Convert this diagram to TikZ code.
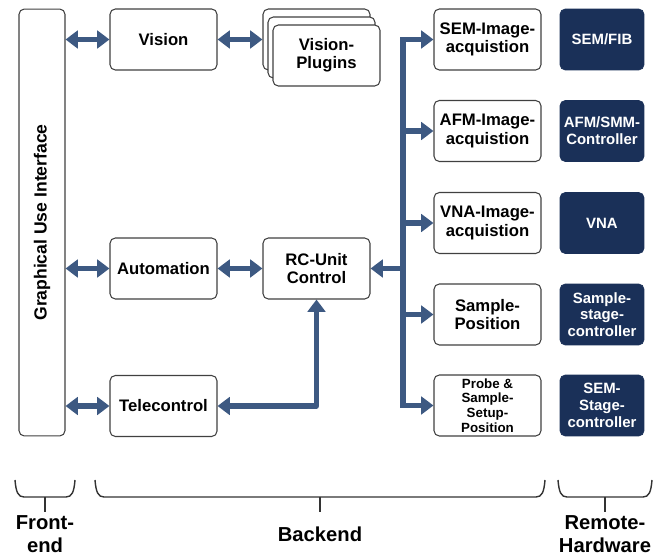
\documentclass[tikz,border=0pt]{standalone}
\usepackage{fontspec}
\setsansfont{Liberation Sans}
\usetikzlibrary{arrows.meta}
\definecolor{linkblue}{RGB}{61,89,130}
\definecolor{hwnavy}{RGB}{26,48,88}
\tikzset{
  swbox/.style={draw=black!75, line width=0.6pt, rounded corners=3pt, fill=white, align=center,
    minimum width=2.14cm, minimum height=1.22cm, inner sep=1pt,
    font=\sffamily\bfseries\fontsize{9.5}{10.5}\selectfont},
  hwbox/.style={draw=hwnavy, fill=hwnavy, text=white, rounded corners=3pt, align=center,
    minimum width=1.68cm, minimum height=1.22cm, inner sep=1pt,
    font=\sffamily\bfseries\fontsize{8.5}{9.5}\selectfont},
  link/.style={draw=linkblue, line width=3pt},
  tip/.tip={Triangle[width=10pt,length=7pt]},
  brace/.style={draw=black!80, line width=0.8pt},
  part/.style={align=center, font=\sffamily\bfseries\fontsize{11.5}{13}\selectfont}
}
\begin{document}
\begin{tikzpicture}[x=0.02cm,y=-0.02cm]
  \useasboundingbox (0,0) rectangle (654,557); % Keep the margins

  % front end
  \node[swbox, minimum width=0.92cm, minimum height=8.54cm] (gui) at (42,222.5)
    {\fontsize{10}{12}\selectfont\rotatebox{90}{Graphical Use Interface}};

  % backend
  \node[swbox] (vis) at (163.5,39.5) {Vision};
  \node[swbox] (plg3) at (316.5,39.5) {};
  \node[swbox] (plg2) at (321.5,47.5) {};
  \node[swbox] (plg) at (326.5,55.5) {Vision-\\Plugins};
  \node[swbox] (aut) at (163.5,268.5) {Automation};
  \node[swbox] (rc) at (316.5,268.5) {RC-Unit\\Control};
  \node[swbox] (tel) at (163.5,406) {Telecontrol};
  \node[swbox] (sem) at (487.5,39.5) {SEM-Image-\\acquistion};
  \node[swbox] (afm) at (487.5,131) {AFM-Image-\\acquistion};
  \node[swbox] (vna) at (487.5,223) {VNA-Image-\\acquistion};
  \node[swbox] (smp) at (487.5,314.5) {Sample-\\Position};
  \node[swbox, inner sep=0pt, font=\sffamily\bfseries\fontsize{7.6}{8.3}\selectfont] (prb) at (487.5,405.5)
    {Probe \&\\Sample-\\Setup-\\Position};

  % remote hardware
  \node[hwbox] (hsem) at (602,39.5) {SEM/FIB};
  \node[hwbox] (hafm) at (602,131) {AFM/SMM-\\Controller};
  \node[hwbox] (hvna) at (602,223) {VNA};
  \node[hwbox] (hsmp) at (602,314.5) {Sample-\\stage-\\controller};
  \node[hwbox] (hprb) at (602,405.5) {SEM-\\Stage-\\controller};

  % connections
  \draw[link, tip-tip] (gui.east |- vis.west) -- (vis.west); % GUI to vision
  \draw[link, tip-tip] (vis.east) -- (plg3.west); % vision to plugins
  \draw[link, tip-tip] (gui.east |- aut.west) -- (aut.west); % GUI to automation
  \draw[link, tip-tip] (aut.east) -- (rc.west); % automation to RC unit
  \draw[link, tip-tip] (gui.east |- tel.west) -- (tel.west); % GUI to telecontrol
  \draw[link, tip-tip, line join=round] (rc.south) |- (tel.east); % RC unit to telecontrol
  \coordinate (bus) at (403,268.5);
  \draw[link, -tip] (bus) -- (rc.east); % bus to RC unit
  \foreach \n in {sem,afm,vna,smp,prb}
    \draw[link, -tip] (bus) |- (\n.west); % bus to acquisition

  % braces
  \draw[brace] (15,480) .. controls (16,492) and (18,497) .. (24,497) -- (66,497) .. controls (72,497) and (74,492) .. (75,480);
  \draw[brace] (45,497) -- (45,512);
  \draw[brace] (95,480) .. controls (96,492) and (98,497) .. (104,497) -- (536,497) .. controls (542,497) and (544,492) .. (545,480);
  \draw[brace] (320,497) -- (320,512);
  \draw[brace] (558,480) .. controls (559,492) and (561,497) .. (567,497) -- (643,497) .. controls (649,497) and (651,492) .. (652,480);
  \draw[brace] (605,497) -- (605,512);
  \node[part] (fe) at (45,534) {Front-\\end};
  \node[part] (be) at (320,534) {Backend};
  \node[part] (rh) at (605,534) {Remote-\\Hardware};
\end{tikzpicture}
\end{document}
